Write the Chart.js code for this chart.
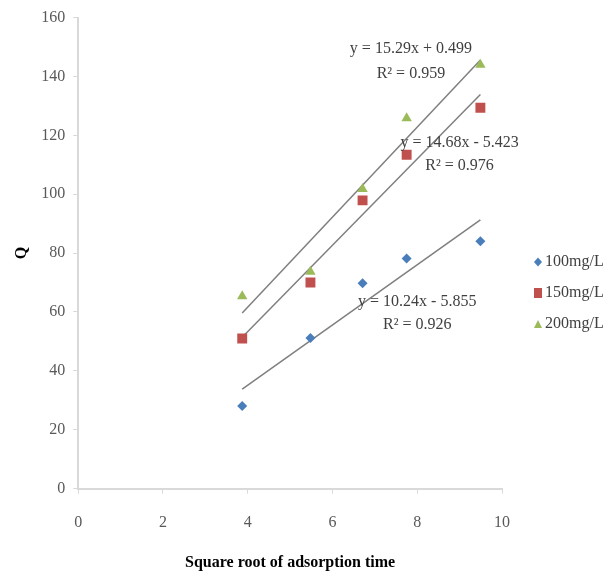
<!DOCTYPE html>
<html lang="en">
<head>
    <meta charset="UTF-8">
    <title>Q vs square root of adsorption time</title>
    <script src="https://cdn.jsdelivr.net/npm/chart.js"></script>
    <style>
        html, body {
            margin: 0;
            padding: 0;
            background: #ffffff;
        }
        #wrap {
            width: 614px;
            height: 572px;
        }
    </style>
</head>
<body>
    <div id="wrap"><canvas id="kinetics" width="614" height="572"></canvas></div>

    <script>
        // square root of adsorption time (x) and Q for each initial concentration
        const sqrtTime = [3.87, 5.48, 6.71, 7.75, 9.49];
        const q100 = [28.1, 51.2, 69.8, 78.2, 84.0];
        const q150 = [51.0, 70.0, 97.9, 113.4, 129.4];
        const q200 = [65.3, 73.7, 101.8, 125.8, 144.0];

        const seriesNames = ['100mg/L', '150mg/L', '200mg/L'];
        const seriesColors = ['#4a7ebb', '#c0504d', '#9bbb59'];

        // linear fits as printed next to each line
        const fitSlope = [10.24, 14.68, 15.29];
        const fitIntercept = [-5.855, -5.423, 0.499];
        const fitText = [
            ['y = 10.24x - 5.855', 'R\u00b2 = 0.926'],
            ['y = 14.68x - 5.423', 'R\u00b2 = 0.976'],
            ['y = 15.29x + 0.499', 'R\u00b2 = 0.959']
        ];
        // where each equation sits, in axis units (x, y of first line, y of second line)
        const fitTextPos = [
            [8.0, 63.6, 55.7],
            [9.0, 117.6, 109.7],
            [7.85, 149.5, 141.0]
        ];

        const serif = "'Liberation Serif', 'Times New Roman', serif";

        const pts = ys => sqrtTime.map((x, i) => ({ x: x, y: ys[i] }));
        const fitLine = k => {
            const x0 = sqrtTime[0], x1 = sqrtTime[sqrtTime.length - 1];
            return [
                { x: x0, y: fitSlope[k] * x0 + fitIntercept[k] },
                { x: x1, y: fitSlope[k] * x1 + fitIntercept[k] }
            ];
        };

        const styles = ['rectRot', 'rect', 'triangle'];
        const radii = [5, 7, 6];

        const datasets = [q100, q150, q200].map((ys, k) => ({
            label: seriesNames[k],
            data: pts(ys),
            pointStyle: styles[k],
            pointRadius: radii[k],
            pointHoverRadius: radii[k],
            backgroundColor: seriesColors[k],
            borderColor: seriesColors[k],
            borderWidth: 0,
            showLine: false,
            order: 1
        }));

        [0, 1, 2].forEach(k => {
            datasets.push({
                label: 'fit' + k,
                type: 'line',
                data: fitLine(k),
                borderColor: '#7f7f7f',
                borderWidth: 1.5,
                pointRadius: 0,
                fill: false,
                order: 2
            });
        });

        // equation + R² labels
        const fitLabels = {
            id: 'fitLabels',
            afterDatasetsDraw(chart) {
                const { ctx, scales } = chart;
                ctx.save();
                ctx.font = '16px ' + serif;
                ctx.fillStyle = '#404040';
                ctx.textAlign = 'center';
                ctx.textBaseline = 'middle';
                fitText.forEach((lines, k) => {
                    const p = fitTextPos[k];
                    const px = scales.x.getPixelForValue(p[0]);
                    ctx.fillText(lines[0], px, scales.y.getPixelForValue(p[1]));
                    ctx.fillText(lines[1], px, scales.y.getPixelForValue(p[2]));
                });
                ctx.restore();
            }
        };

        // small legend to the right of the plot, marker hugging the text
        const sideLegend = {
            id: 'sideLegend',
            afterDraw(chart) {
                const ctx = chart.ctx;
                const mx = 538, tx = 545, y0 = 262, step = 31;
                ctx.save();
                ctx.font = '16px ' + serif;
                ctx.textBaseline = 'middle';
                ctx.textAlign = 'left';
                seriesNames.forEach((name, k) => {
                    const y = y0 + k * step;
                    ctx.fillStyle = seriesColors[k];
                    ctx.beginPath();
                    if (k === 0) {
                        ctx.moveTo(mx, y - 4.5);
                        ctx.lineTo(mx + 4, y);
                        ctx.lineTo(mx, y + 4.5);
                        ctx.lineTo(mx - 4, y);
                    } else if (k === 1) {
                        ctx.rect(mx - 4, y - 5, 8, 10);
                    } else {
                        ctx.moveTo(mx, y - 4);
                        ctx.lineTo(mx + 4, y + 4);
                        ctx.lineTo(mx - 4, y + 4);
                    }
                    ctx.closePath();
                    ctx.fill();
                    ctx.fillStyle = '#404040';
                    ctx.fillText(name, tx, y);
                });
                ctx.restore();
            }
        };

        const axisGrey = '#d9d9d9';

        new Chart(document.getElementById('kinetics'), {
            type: 'scatter',
            data: { datasets: datasets },
            options: {
                responsive: false,
                animation: false,
                layout: {
                    padding: { left: 5, right: 112, top: 6, bottom: 0 }
                },
                scales: {
                    x: {
                        type: 'linear',
                        min: 0,
                        max: 10,
                        ticks: {
                            stepSize: 2,
                            color: '#595959',
                            padding: 20,
                            font: { family: serif, size: 16 }
                        },
                        grid: {
                            drawOnChartArea: false,
                            drawTicks: true,
                            tickLength: 5,
                            color: axisGrey
                        },
                        border: { color: axisGrey, width: 2 },
                        title: {
                            display: true,
                            text: 'Square root of adsorption time',
                            color: '#000000',
                            padding: { top: 0, bottom: 0 },
                            font: { family: serif, size: 16, weight: 'bold' }
                        }
                    },
                    y: {
                        min: 0,
                        max: 160,
                        ticks: {
                            stepSize: 20,
                            color: '#595959',
                            padding: 8,
                            font: { family: serif, size: 16 }
                        },
                        grid: {
                            drawOnChartArea: false,
                            drawTicks: true,
                            tickLength: 5,
                            color: axisGrey
                        },
                        border: { color: axisGrey, width: 2 },
                        title: {
                            display: true,
                            text: 'Q',
                            color: '#000000',
                            padding: { top: 7, bottom: 2 },
                            font: { family: serif, size: 16, weight: 'bold' }
                        }
                    }
                },
                plugins: {
                    legend: { display: false },
                    tooltip: { enabled: false }
                }
            },
            plugins: [fitLabels, sideLegend]
        });
    </script>
</body>
</html>
